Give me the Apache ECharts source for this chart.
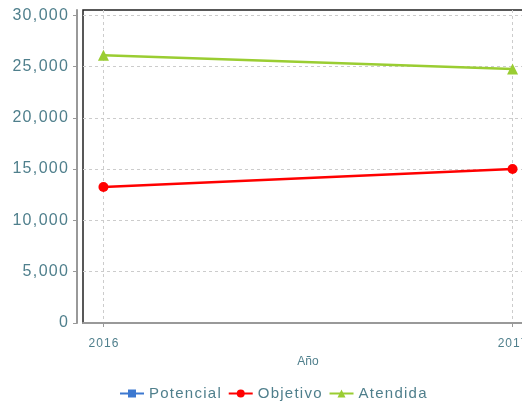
<!DOCTYPE html>
<html>
<head>
<meta charset="utf-8">
<script src="https://cdn.jsdelivr.net/npm/echarts@6/dist/echarts.min.js"></script>
<style>
  html, body { margin: 0; padding: 0; background: #fff; }
  #chart { width: 522px; height: 402px; }
</style>
</head>
<body>
<div id="chart"></div>
<script>
// datos
var years = [2016, 2017];
var potencial = [null, null];
var objetivo = [13250, 15000];
var atendida = [26100, 24750];
var yTicks = [0, 5000, 10000, 15000, 20000, 25000, 30000];

var textColor = '#4f7f8c';

// letras un poco separadas, como en el original
function spaced(s) {
    return String(s).split('').join('\u200A');
}
function pairs(vals) {
    return years.map(function (y, i) { return [y, vals[i]]; });
}

var chart = echarts.init(document.getElementById('chart'));
var option = {
    animation: false,
    grid: {
        show: true,
        left: 83,
        top: 10,
        width: 450,
        height: 313,
        outerBoundsMode: 'none',
        containLabel: false,
        borderColor: '#222',
        borderWidth: 1.5,
        backgroundColor: '#fff'
    },
    legend: {
        top: 381,
        left: 114,
        itemWidth: 24,
        itemHeight: 10,
        itemGap: 7,
        textStyle: {
            color: textColor,
            fontSize: 15,
            fontFamily: 'Liberation Sans'
        },
        formatter: function (n) { return spaced(n); },
        data: ['Potencial', 'Objetivo', 'Atendida']
    },
    xAxis: {
        type: 'value',
        min: 2015.95,
        max: 2017.05,
        offset: 6,
        name: 'Año',
        nameLocation: 'middle',
        nameGap: 27,
        nameTextStyle: {
            color: textColor,
            fontSize: 12,
            fontFamily: 'Liberation Sans'
        },
        axisLine: { show: true, lineStyle: { color: '#999', width: 2 } },
        axisTick: {
            show: true,
            length: 4,
            customValues: years,
            lineStyle: { color: '#999' }
        },
        axisLabel: {
            customValues: years,
            margin: 9,
            color: textColor,
            fontSize: 12,
            fontFamily: 'Liberation Sans',
            formatter: function (v) { return spaced(v); }
        },
        splitLine: {
            show: true,
            lineStyle: { color: '#ccc', type: [3, 3] }
        }
    },
    yAxis: {
        type: 'value',
        min: 0,
        max: 30500,
        interval: 5000,
        offset: 6,
        axisLine: { show: true, lineStyle: { color: '#999', width: 2 } },
        axisTick: {
            show: true,
            length: 4,
            customValues: yTicks,
            lineStyle: { color: '#999' }
        },
        axisLabel: {
            customValues: yTicks,
            margin: 9,
            color: textColor,
            fontSize: 16,
            fontFamily: 'Liberation Sans',
            formatter: function (v) {
                return spaced(String(v).replace(/\B(?=(\d{3})+(?!\d))/g, ','));
            }
        },
        splitLine: {
            show: true,
            lineStyle: { color: '#ccc', type: [3, 3] }
        }
    },
    series: [
        {
            name: 'Potencial',
            type: 'line',
            data: pairs(potencial),
            symbol: 'rect',
            symbolSize: 9,
            color: '#3c78d0',
            lineStyle: { width: 2.5 }
        },
        {
            name: 'Objetivo',
            type: 'line',
            data: pairs(objetivo),
            symbol: 'circle',
            symbolSize: 10,
            color: '#ff0000',
            lineStyle: { width: 2.5 }
        },
        {
            name: 'Atendida',
            type: 'line',
            data: pairs(atendida),
            symbol: 'triangle',
            symbolSize: 11,
            color: '#9acd32',
            lineStyle: { width: 2.5 }
        }
    ]
};
chart.setOption(option);
</script>
</body>
</html>
